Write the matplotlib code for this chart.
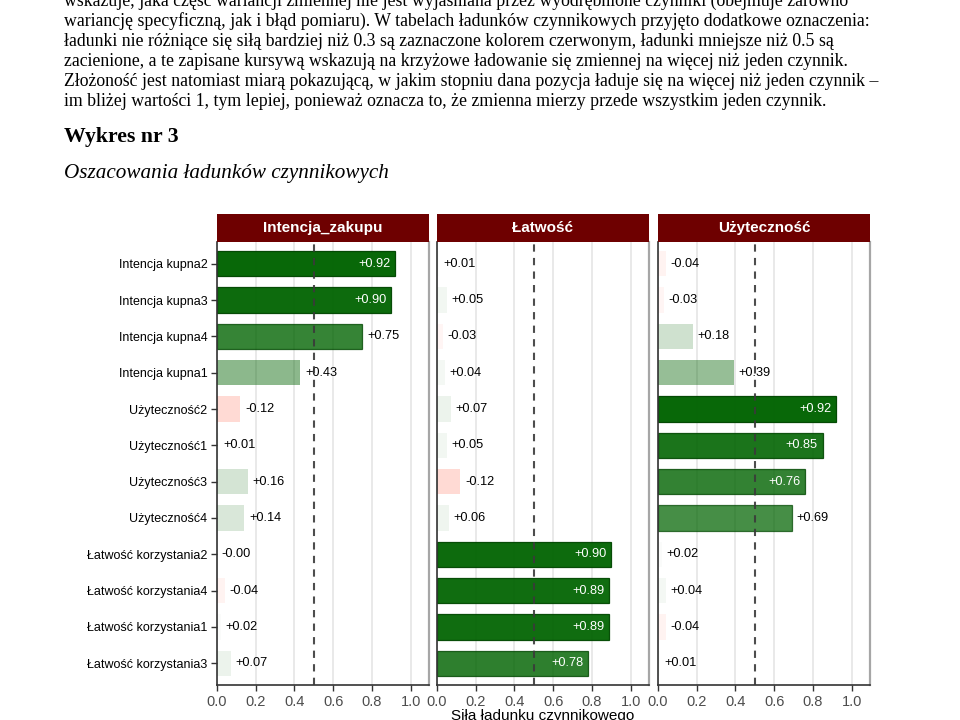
import numpy as np
import matplotlib.pyplot as plt

plt.rcParams['font.family'] = ['Liberation Sans', 'DejaVu Sans']

# rows, top to bottom
items = ["Intencja kupna2", "Intencja kupna3", "Intencja kupna4", "Intencja kupna1",
         "Użyteczność2", "Użyteczność1", "Użyteczność3", "Użyteczność4",
         "Łatwość korzystania2", "Łatwość korzystania4", "Łatwość korzystania1",
         "Łatwość korzystania3"]
factors = ["Intencja_zakupu", "Łatwość", "Użyteczność"]
intencja = [0.92, 0.90, 0.75, 0.43, -0.12, 0.01, 0.16, 0.14, -0.0, -0.04, 0.02, 0.07]
latwosc = [0.01, 0.05, -0.03, 0.04, 0.07, 0.05, -0.12, 0.06, 0.90, 0.89, 0.89, 0.78]
uzytecznosc = [-0.04, -0.03, 0.18, 0.39, 0.92, 0.85, 0.76, 0.69, 0.02, 0.04, -0.04, 0.01]
xticks = [0.0, 0.2, 0.4, 0.6, 0.8, 1.0]

paragraph = [
    "wskazuje, jaka część wariancji zmiennej nie jest wyjaśniana przez wyodrębnione czynniki (obejmuje zarówno",
    "wariancję specyficzną, jak i błąd pomiaru). W tabelach ładunków czynnikowych przyjęto dodatkowe oznaczenia:",
    "ładunki nie różniące się siłą bardziej niż 0.3 są zaznaczone kolorem czerwonym, ładunki mniejsze niż 0.5 są",
    "zacienione, a te zapisane kursywą wskazują na krzyżowe ładowanie się zmiennej na więcej niż jeden czynnik.",
    "Złożoność jest natomiast miarą pokazującą, w jakim stopniu dana pozycja ładuje się na więcej niż jeden czynnik –",
    "im bliżej wartości 1, tym lepiej, ponieważ oznacza to, że zmienna mierzy przede wszystkim jeden czynnik.",
]
heading = "Wykres nr 3"
subtitle = "Oszacowania ładunków czynnikowych"
xlabel = "Siła ładunku czynnikowego"

W, H = 960, 720
fig = plt.figure(figsize=(W / 100, H / 100), dpi=100)
serif = ['Liberation Serif', 'DejaVu Serif']

# document text above the chart
for i, line in enumerate(paragraph):
    fig.text(64 / W, 1 - (6 + 20 * i) / H, line, va='baseline', ha='left',
             family=serif, fontsize=12.75)
fig.text(64 / W, 1 - 142 / H, heading, va='baseline', ha='left',
         family=serif, fontsize=15.7, fontweight='bold')
fig.text(64 / W, 1 - 178 / H, subtitle, va='baseline', ha='left',
         family=serif, fontsize=15.2, style='italic')

green = np.array([0.0, 0.39, 0.0])
red = np.array([1.0, 0.16, 0.0])

panel_left = [217, 437, 658]
panel_w = 212
plot_top, plot_bot = 242, 685
strip_top = 214

y = np.arange(len(items))
for k, (name, vals) in enumerate(zip(factors, [intencja, latwosc, uzytecznosc])):
    ax = fig.add_axes([panel_left[k] / W, 1 - plot_bot / H,
                       panel_w / W, (plot_bot - plot_top) / H])
    for yi, v in zip(y, vals):
        if v >= 0:
            a = min(1.0, abs(v) / 0.95)
            base = green
        else:
            a = min(1.0, abs(v) * 1.4)
            base = red
        fill = (*base, a)
        edge = (0.0, 0.28, 0.0, a if abs(v) > 0.5 else 0.0)
        ax.barh(yi, abs(v), height=0.7, color=fill, edgecolor=edge,
                linewidth=0.9, zorder=2)
        lab = f"{v:+.2f}"
        if abs(v) > 0.75:
            ax.text(abs(v) - 0.025, yi, lab, ha='right', va='center',
                    color='white', fontsize=9.2, zorder=3)
        else:
            ax.text(abs(v) + 0.025, yi, lab, ha='left', va='center',
                    color='black', fontsize=9.2, zorder=3)

    ax.axvline(0.5, color='#3a3a3a', linewidth=1.5, linestyle=(0, (3.5, 3)),
               alpha=0.9, zorder=4)
    ax.set_xlim(0, 1.095)
    ax.set_ylim(len(items) - 0.4, -0.6)
    ax.set_xticks(xticks)
    ax.set_xticklabels([f"{t:.1f}" for t in xticks])
    ax.grid(axis='x', color='#e3e3e3', linewidth=1.1, zorder=0)
    ax.set_axisbelow(True)
    ax.tick_params(axis='x', labelsize=10.5, labelcolor='#4d4d4d', color='#333333',
                   length=4, width=1, pad=3)
    if k == 0:
        ax.set_yticks(y)
        ax.set_yticklabels(items)
        ax.tick_params(axis='y', labelsize=9, labelcolor='black', color='#333333',
                       length=4, width=1, pad=3)
    else:
        ax.set_yticks([])
    ax.spines['top'].set_visible(False)
    for s in ['left', 'bottom']:
        ax.spines[s].set_color('#333333')
        ax.spines[s].set_linewidth(1.2)
    ax.spines['right'].set_color('#a6a6a6')
    ax.spines['right'].set_linewidth(1.6)

    # facet strip
    sax = fig.add_axes([panel_left[k] / W, 1 - plot_top / H,
                        panel_w / W, (plot_top - strip_top) / H])
    sax.set_facecolor('#6e0000')
    sax.set_xticks([])
    sax.set_yticks([])
    for s in sax.spines.values():
        s.set_visible(False)
    sax.text(0.5, 0.5, name, ha='center', va='center', color='white',
             fontsize=11, fontweight='bold', transform=sax.transAxes)

fig.text((panel_left[1] + panel_w / 2) / W, 1 - 716 / H, xlabel,
         ha='center', va='center', fontsize=11)

fig.savefig("out.png", dpi=100)
